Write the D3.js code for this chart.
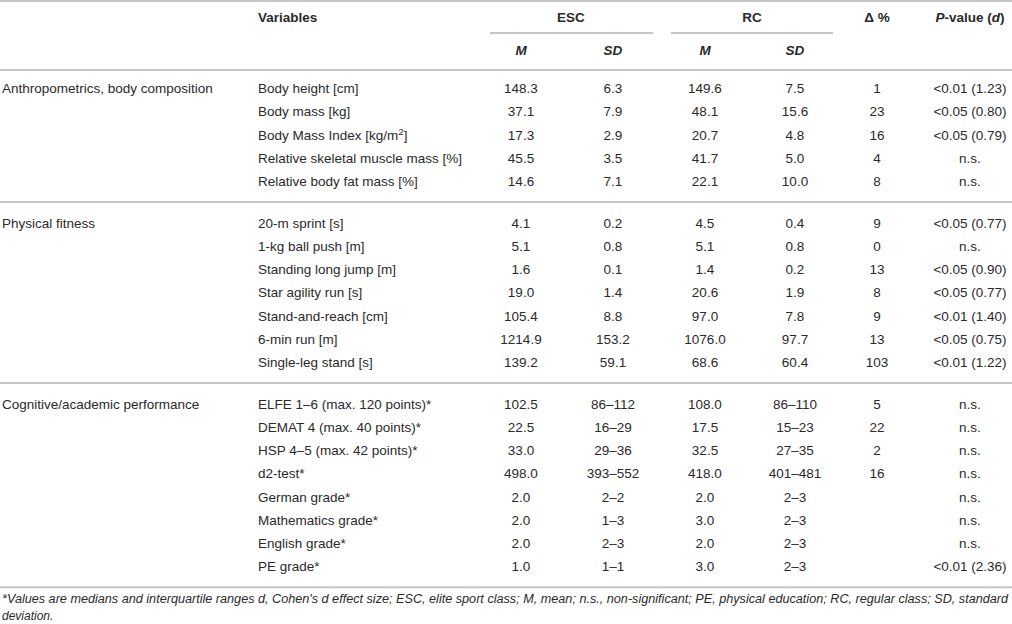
<!DOCTYPE html>
<html>
<head>
<meta charset="utf-8">
<script src="https://cdn.jsdelivr.net/npm/d3@7"></script>
<style>
  body { margin: 0; background: #fff; }
  svg text { font-family: "Liberation Sans", Arial, Helvetica, sans-serif; fill: #2a2a2a; }
  .hd { font-weight: bold; }
</style>
</head>
<body>
<script>
(function() {
	"use strict";
	// table content
	const GROUPS = ["Anthropometrics, body composition", "Physical fitness", "Cognitive/academic performance"],
	  GROUP_SIZE = [5, 7, 8],
	  VARIABLES = ["Body height [cm]", "Body mass [kg]", "Body Mass Index [kg/m2]",
	    "Relative skeletal muscle mass [%]", "Relative body fat mass [%]",
	    "20-m sprint [s]", "1-kg ball push [m]", "Standing long jump [m]", "Star agility run [s]",
	    "Stand-and-reach [cm]", "6-min run [m]", "Single-leg stand [s]",
	    "ELFE 1–6 (max. 120 points)*", "DEMAT 4 (max. 40 points)*", "HSP 4–5 (max. 42 points)*",
	    "d2-test*", "German grade*", "Mathematics grade*", "English grade*", "PE grade*"],
	  ESC_M = ["148.3", "37.1", "17.3", "45.5", "14.6",
	    "4.1", "5.1", "1.6", "19.0", "105.4", "1214.9", "139.2",
	    "102.5", "22.5", "33.0", "498.0", "2.0", "2.0", "2.0", "1.0"],
	  ESC_SD = ["6.3", "7.9", "2.9", "3.5", "7.1",
	    "0.2", "0.8", "0.1", "1.4", "8.8", "153.2", "59.1",
	    "86–112", "16–29", "29–36", "393–552", "2–2", "1–3", "2–3", "1–1"],
	  RC_M = ["149.6", "48.1", "20.7", "41.7", "22.1",
	    "4.5", "5.1", "1.4", "20.6", "97.0", "1076.0", "68.6",
	    "108.0", "17.5", "32.5", "418.0", "2.0", "3.0", "2.0", "3.0"],
	  RC_SD = ["7.5", "15.6", "4.8", "5.0", "10.0",
	    "0.4", "0.8", "0.2", "1.9", "7.8", "97.7", "60.4",
	    "86–110", "15–23", "27–35", "401–481", "2–3", "2–3", "2–3", "2–3"],
	  DELTA = ["1", "23", "16", "4", "8",
	    "9", "0", "13", "8", "9", "13", "103",
	    "5", "22", "2", "16", "", "", "", ""],
	  P_VALUE = ["<0.01 (1.23)", "<0.05 (0.80)", "<0.05 (0.79)", "n.s.", "n.s.",
	    "<0.05 (0.77)", "n.s.", "<0.05 (0.90)", "<0.05 (0.77)", "<0.01 (1.40)", "<0.05 (0.75)", "<0.01 (1.22)",
	    "n.s.", "n.s.", "n.s.", "n.s.", "n.s.", "n.s.", "n.s.", "<0.01 (2.36)"],
	  FOOTNOTE = ["*Values are medians and interquartile ranges d, Cohen's d effect size; ESC, elite sport class; M, mean; n.s., non-significant; PE, physical education; RC, regular class; SD, standard",
	    "deviation."];

	const W = 1012, H = 624, FS = 13.5;
	const svg = d3.select("body").append("svg").attr("width", W).attr("height", H);

	// columns
	const COLS = ["escM", "escSD", "rcM", "rcSD", "delta", "p"];
	const colX = d3.scaleOrdinal().domain(COLS).range([521, 613, 705, 795, 877, 970]);
	const COL_DATA = { escM: ESC_M, escSD: ESC_SD, rcM: RC_M, rcSD: RC_SD, delta: DELTA, p: P_VALUE };

	// rows: index + group gap
	const groupOf = [];
	GROUP_SIZE.forEach((n, g) => { for (let k = 0; k < n; k++) groupOf.push(g); });
	const rowY = d3.scaleLinear().domain([0, 1]).range([93, 116.25]);
	const gap = 18.25;
	const yOf = i => rowY(i) + groupOf[i] * gap;

	const line = (x1, x2, y) => svg.append("line").attr("x1", x1).attr("x2", x2)
	  .attr("y1", y).attr("y2", y).attr("stroke", "#c6c6c6").attr("stroke-width", 2);

	// rules
	line(0, W, 1);
	line(490, 653, 33);
	line(671, 833, 33);
	line(0, W, 70);
	let start = 0;
	GROUP_SIZE.forEach((n, g) => {
		line(0, W, yOf(start + n - 1) + 16);
		start += n;
	});

	// header
	const hd = svg.append("g").attr("font-size", FS);
	hd.append("text").attr("class", "hd").attr("x", 258).attr("y", 22).text("Variables");
	hd.append("text").attr("class", "hd").attr("x", (colX("escM") + colX("escSD")) / 2 + 4)
	  .attr("y", 22).attr("text-anchor", "middle").text("ESC");
	hd.append("text").attr("class", "hd").attr("x", (colX("rcM") + colX("rcSD")) / 2 + 2)
	  .attr("y", 22).attr("text-anchor", "middle").text("RC");
	hd.append("text").attr("class", "hd").attr("x", colX("delta")).attr("y", 22)
	  .attr("text-anchor", "middle").text("Δ %");
	const pv = hd.append("text").attr("class", "hd").attr("x", colX("p")).attr("y", 22)
	  .attr("text-anchor", "middle");
	pv.append("tspan").attr("font-style", "italic").text("P");
	pv.append("tspan").text("-value (");
	pv.append("tspan").attr("font-style", "italic").text("d");
	pv.append("tspan").text(")");
	["escM", "escSD", "rcM", "rcSD"].forEach(c => {
		hd.append("text").attr("class", "hd").attr("font-style", "italic")
		  .attr("x", colX(c)).attr("y", 55).attr("text-anchor", "middle")
		  .text(c.endsWith("SD") ? "SD" : "M");
	});

	// group labels
	let first = 0;
	const firstRows = GROUP_SIZE.map(n => { const f = first; first += n; return f; });
	svg.append("g").attr("font-size", FS).selectAll("text").data(GROUPS).enter().append("text")
	  .attr("x", 2).attr("y", (d, g) => yOf(firstRows[g])).text(d => d);

	// variable names
	const vt = svg.append("g").attr("font-size", FS).selectAll("text").data(VARIABLES).enter().append("text")
	  .attr("x", 258).attr("y", (d, i) => yOf(i));
	vt.each(function(d) {
		const t = d3.select(this);
		if (d.endsWith("m2]")) {
			t.append("tspan").text(d.slice(0, -2));
			t.append("tspan").attr("dy", -5).attr("font-size", FS * 0.72).text("2");
			t.append("tspan").attr("dy", 5).text("]");
		} else {
			t.text(d);
		}
	});

	// value cells
	COLS.forEach(c => {
		svg.append("g").attr("font-size", FS).selectAll("text").data(COL_DATA[c]).enter().append("text")
		  .attr("x", colX(c)).attr("y", (d, i) => yOf(i)).attr("text-anchor", "middle")
		  .text(d => d);
	});

	// footnote
	svg.append("g").attr("font-size", 12).attr("font-style", "italic")
	  .selectAll("text").data(FOOTNOTE).enter().append("text")
	  .attr("x", 2).attr("y", (d, i) => 603 + i * 17)
	  .attr("textLength", (d, i) => i === 0 ? 1006 : null)
	  .attr("lengthAdjust", "spacingAndGlyphs")
	  .text(d => d);
}());
</script>
</body>
</html>
